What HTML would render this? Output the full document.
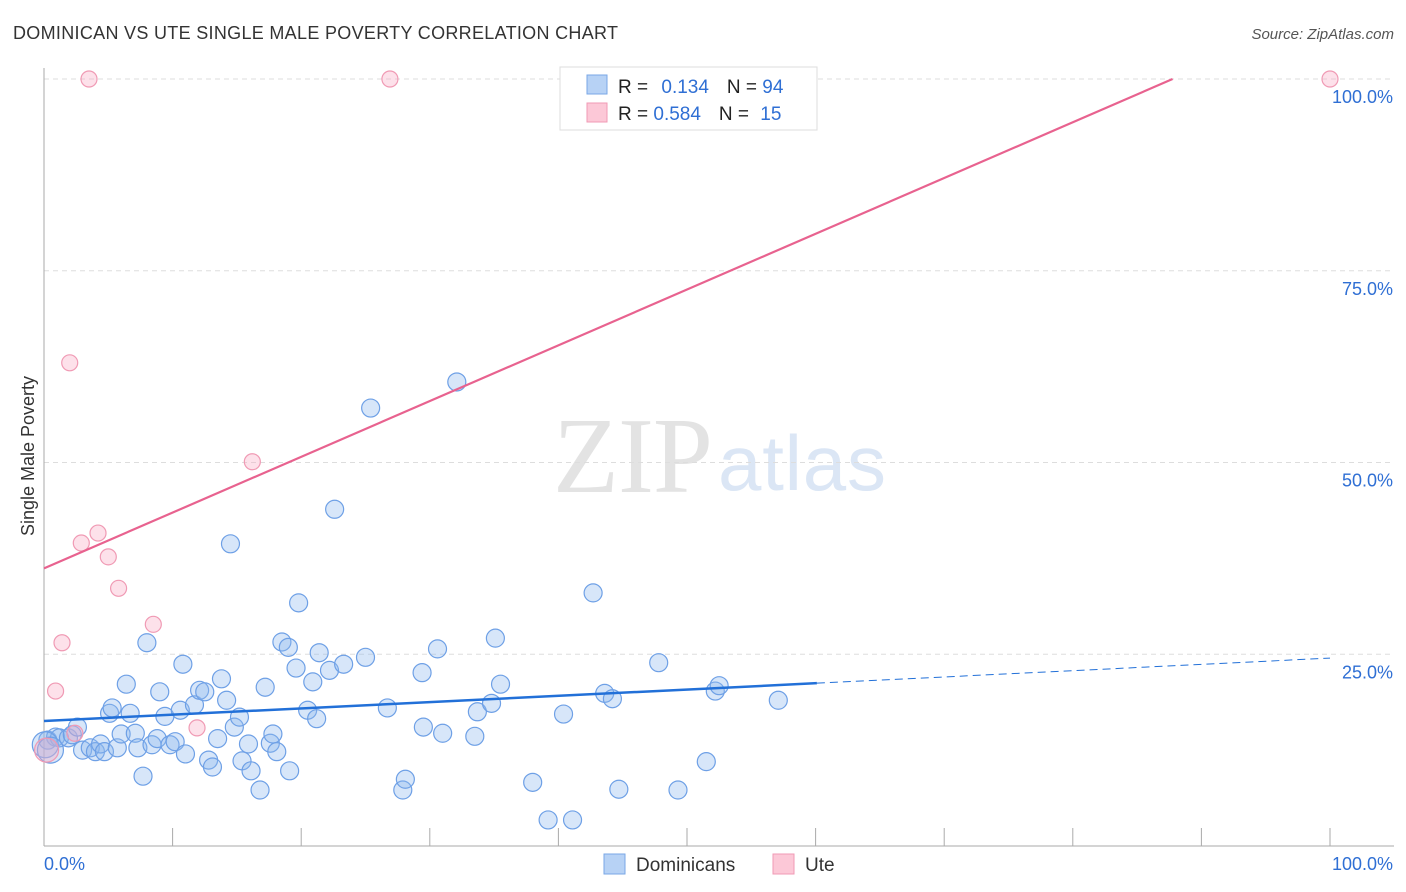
<!DOCTYPE html>
<html><head><meta charset="utf-8"><style>
body{margin:0;background:#fff;width:1406px;height:892px;overflow:hidden;font-family:"Liberation Sans",sans-serif}
svg{position:absolute;left:0;top:0}
</style></head><body>
<svg id="chart" width="1406" height="892">
<text x="13" y="39" font-size="18" fill="#333" textLength="605">DOMINICAN VS UTE SINGLE MALE POVERTY CORRELATION CHART</text>
<text x="1394" y="39" font-size="15" font-style="italic" fill="#555" text-anchor="end">Source: ZipAtlas.com</text>
<text x="553" y="492" font-size="108" font-family="Liberation Serif,serif" fill="#e3e3e3" textLength="160">ZIP</text>
<text x="718" y="490" font-size="78" fill="#dbe6f5" textLength="168">atlas</text>
<text transform="translate(34,456) rotate(-90)" font-size="18" fill="#333" text-anchor="middle">Single Male Poverty</text>
<g id="grid"></g><g id="ticks"></g><g id="pts"></g><g id="lines"></g>
<g>
<rect x="560" y="67" width="257" height="63" fill="#fff" stroke="#ddd"/>
<rect x="587" y="75" width="20" height="19" fill="#b7d2f5" stroke="#7aa7e6"/>
<rect x="587" y="103" width="20" height="19" fill="#fcc8d7" stroke="#f09ab4"/>
<text x="618" y="93" font-size="19" fill="#222">R = <tspan fill="#2f6fd4" dx="8">0.134</tspan><tspan dx="18" fill="#222">N = </tspan><tspan fill="#2f6fd4">94</tspan></text>
<text x="618" y="120" font-size="19" fill="#222">R = <tspan fill="#2f6fd4">0.584</tspan><tspan dx="18" fill="#222">N = </tspan><tspan fill="#2f6fd4" dx="6">15</tspan></text>
</g>
<g>
<rect x="604" y="854" width="21" height="20" fill="#b7d2f5" stroke="#7aa7e6"/>
<text x="636" y="871" font-size="19" fill="#333">Dominicans</text>
<rect x="773" y="854" width="21" height="20" fill="#fcc8d7" stroke="#f09ab4"/>
<text x="805" y="871" font-size="19" fill="#333">Ute</text>
</g>
</svg>
<script>
const blueX=[0.3,0.9,1.2,1.9,2.2,2.6,3.0,3.6,4.0,4.4,4.7,5.1,5.3,5.7,6.0,6.4,6.7,7.1,7.3,8.0,7.7,8.4,8.8,9.0,9.4,9.8,10.2,10.6,10.8,11.0,11.7,12.1,12.5,12.8,13.1,13.5,13.8,14.2,14.5,14.8,15.2,15.4,15.9,16.1,16.8,17.2,17.6,17.8,18.1,18.5,19.0,19.1,19.6,19.8,20.5,20.9,21.2,21.4,22.2,22.6,23.3,25.0,25.4,26.7,27.9,28.1,29.4,29.5,30.6,31.0,32.1,33.5,33.7,34.8,35.1,35.5,38.0,39.2,40.4,41.1,42.7,43.6,44.2,44.7,47.8,49.3,51.5,52.2,52.5,57.1,0.1,0.5];
const blueY=[13.8,14.2,14.1,14.1,14.5,15.5,12.5,12.8,12.3,13.3,12.3,17.3,18.0,12.8,14.6,21.1,17.3,14.7,12.8,26.5,9.1,13.2,14.0,20.1,16.9,13.2,13.6,17.7,23.7,12.0,18.4,20.3,20.1,11.2,10.3,14.0,21.8,19.0,39.4,15.5,16.8,11.1,13.3,9.8,7.3,20.7,13.4,14.6,12.3,26.6,25.9,9.8,23.2,31.7,17.7,21.4,16.6,25.2,22.9,43.9,23.7,24.6,57.1,18.0,7.3,8.7,22.6,15.5,25.7,14.7,60.5,14.3,17.5,18.6,27.1,21.1,8.3,3.4,17.2,3.4,33.0,19.9,19.2,7.4,23.9,7.3,11.0,20.2,20.9,19.0,13.2,12.5];
const pinkX=[3.5,26.9,100,2.0,16.2,4.2,2.9,5.0,5.8,8.5,1.4,0.9,11.9,2.4,0.2];
const pinkY=[100,100,100,63.0,50.1,40.8,39.5,37.7,33.6,28.9,26.5,20.2,15.4,14.7,12.5];
const blueLine=[16.3,0.082]; // intercept, slope
const blueSolidEnd=60.1;
const pinkLine=[36.2,0.727];
const yTicks=[25,50,75,100];
const yTickLabels=["25.0%","50.0%","75.0%","100.0%"];
const xTicks=[0,10,20,30,40,50,60,70,80,90,100];
const NS="http://www.w3.org/2000/svg";
const sx=v=>44+v*12.86, sy=v=>846-v*7.67;
function mk(t,a,p){const e=document.createElementNS(NS,t);for(const k in a)e.setAttribute(k,a[k]);p.appendChild(e);return e;}
const grid=document.getElementById('grid'),ticks=document.getElementById('ticks'),pts=document.getElementById('pts'),lines=document.getElementById('lines');
yTicks.forEach((v,i)=>{
 const l=mk('line',{x1:44,x2:1394,y1:sy(v),y2:sy(v),stroke:'#ddd','stroke-dasharray':'5,4'},grid);
 
 
 const t=mk('text',{x:1393,y:sy(v)+24,'font-size':18,fill:'#2f6fd4','text-anchor':'end'},ticks);
 t.textContent=yTickLabels[i];
 
 
});
mk('line',{x1:44,x2:44,y1:68,y2:846,stroke:'#aaa'},ticks);
mk('line',{x1:44,x2:1394,y1:846,y2:846,stroke:'#aaa'},ticks);
xTicks.forEach(v=>{const l=mk('line',{x1:sx(v),x2:sx(v),y1:828,y2:846,stroke:'#aaa'},ticks);
 
 });
const xl0=mk('text',{x:44,y:870,'font-size':18,fill:'#2f6fd4'},ticks);xl0.textContent='0.0%';


const xl1=mk('text',{x:1393,y:870,'font-size':18,fill:'#2f6fd4','text-anchor':'end'},ticks);xl1.textContent='100.0%';


blueX.forEach((x,i)=>{const c=mk('circle',{cx:sx(x),cy:sy(blueY[i]),r:i>=90?13:9,fill:'rgba(140,183,238,0.35)',stroke:'#6ea0e6','stroke-width':1.2},pts);
 
 });
pinkX.forEach((x,i)=>{const c=mk('circle',{cx:sx(x),cy:sy(pinkY[i]),r:i==14?12:8,fill:'rgba(248,170,195,0.35)',stroke:'#f09ab4','stroke-width':1.2},pts);
 
 });
const bl=mk('line',{x1:sx(0),y1:sy(blueLine[0]),x2:sx(blueSolidEnd),y2:sy(blueLine[0]+blueLine[1]*blueSolidEnd),stroke:'#2270d8','stroke-width':2.5},lines);


const bd=mk('line',{x1:sx(blueSolidEnd),y1:sy(blueLine[0]+blueLine[1]*blueSolidEnd),x2:sx(100),y2:sy(blueLine[0]+blueLine[1]*100),stroke:'#2270d8','stroke-width':1,'stroke-dasharray':'8,5'},lines);


const pEnd=(100-pinkLine[0])/pinkLine[1];
const pl=mk('line',{x1:sx(0),y1:sy(pinkLine[0]),x2:sx(pEnd),y2:sy(100),stroke:'#e8628f','stroke-width':2.2},lines);


</script>
</body></html>
